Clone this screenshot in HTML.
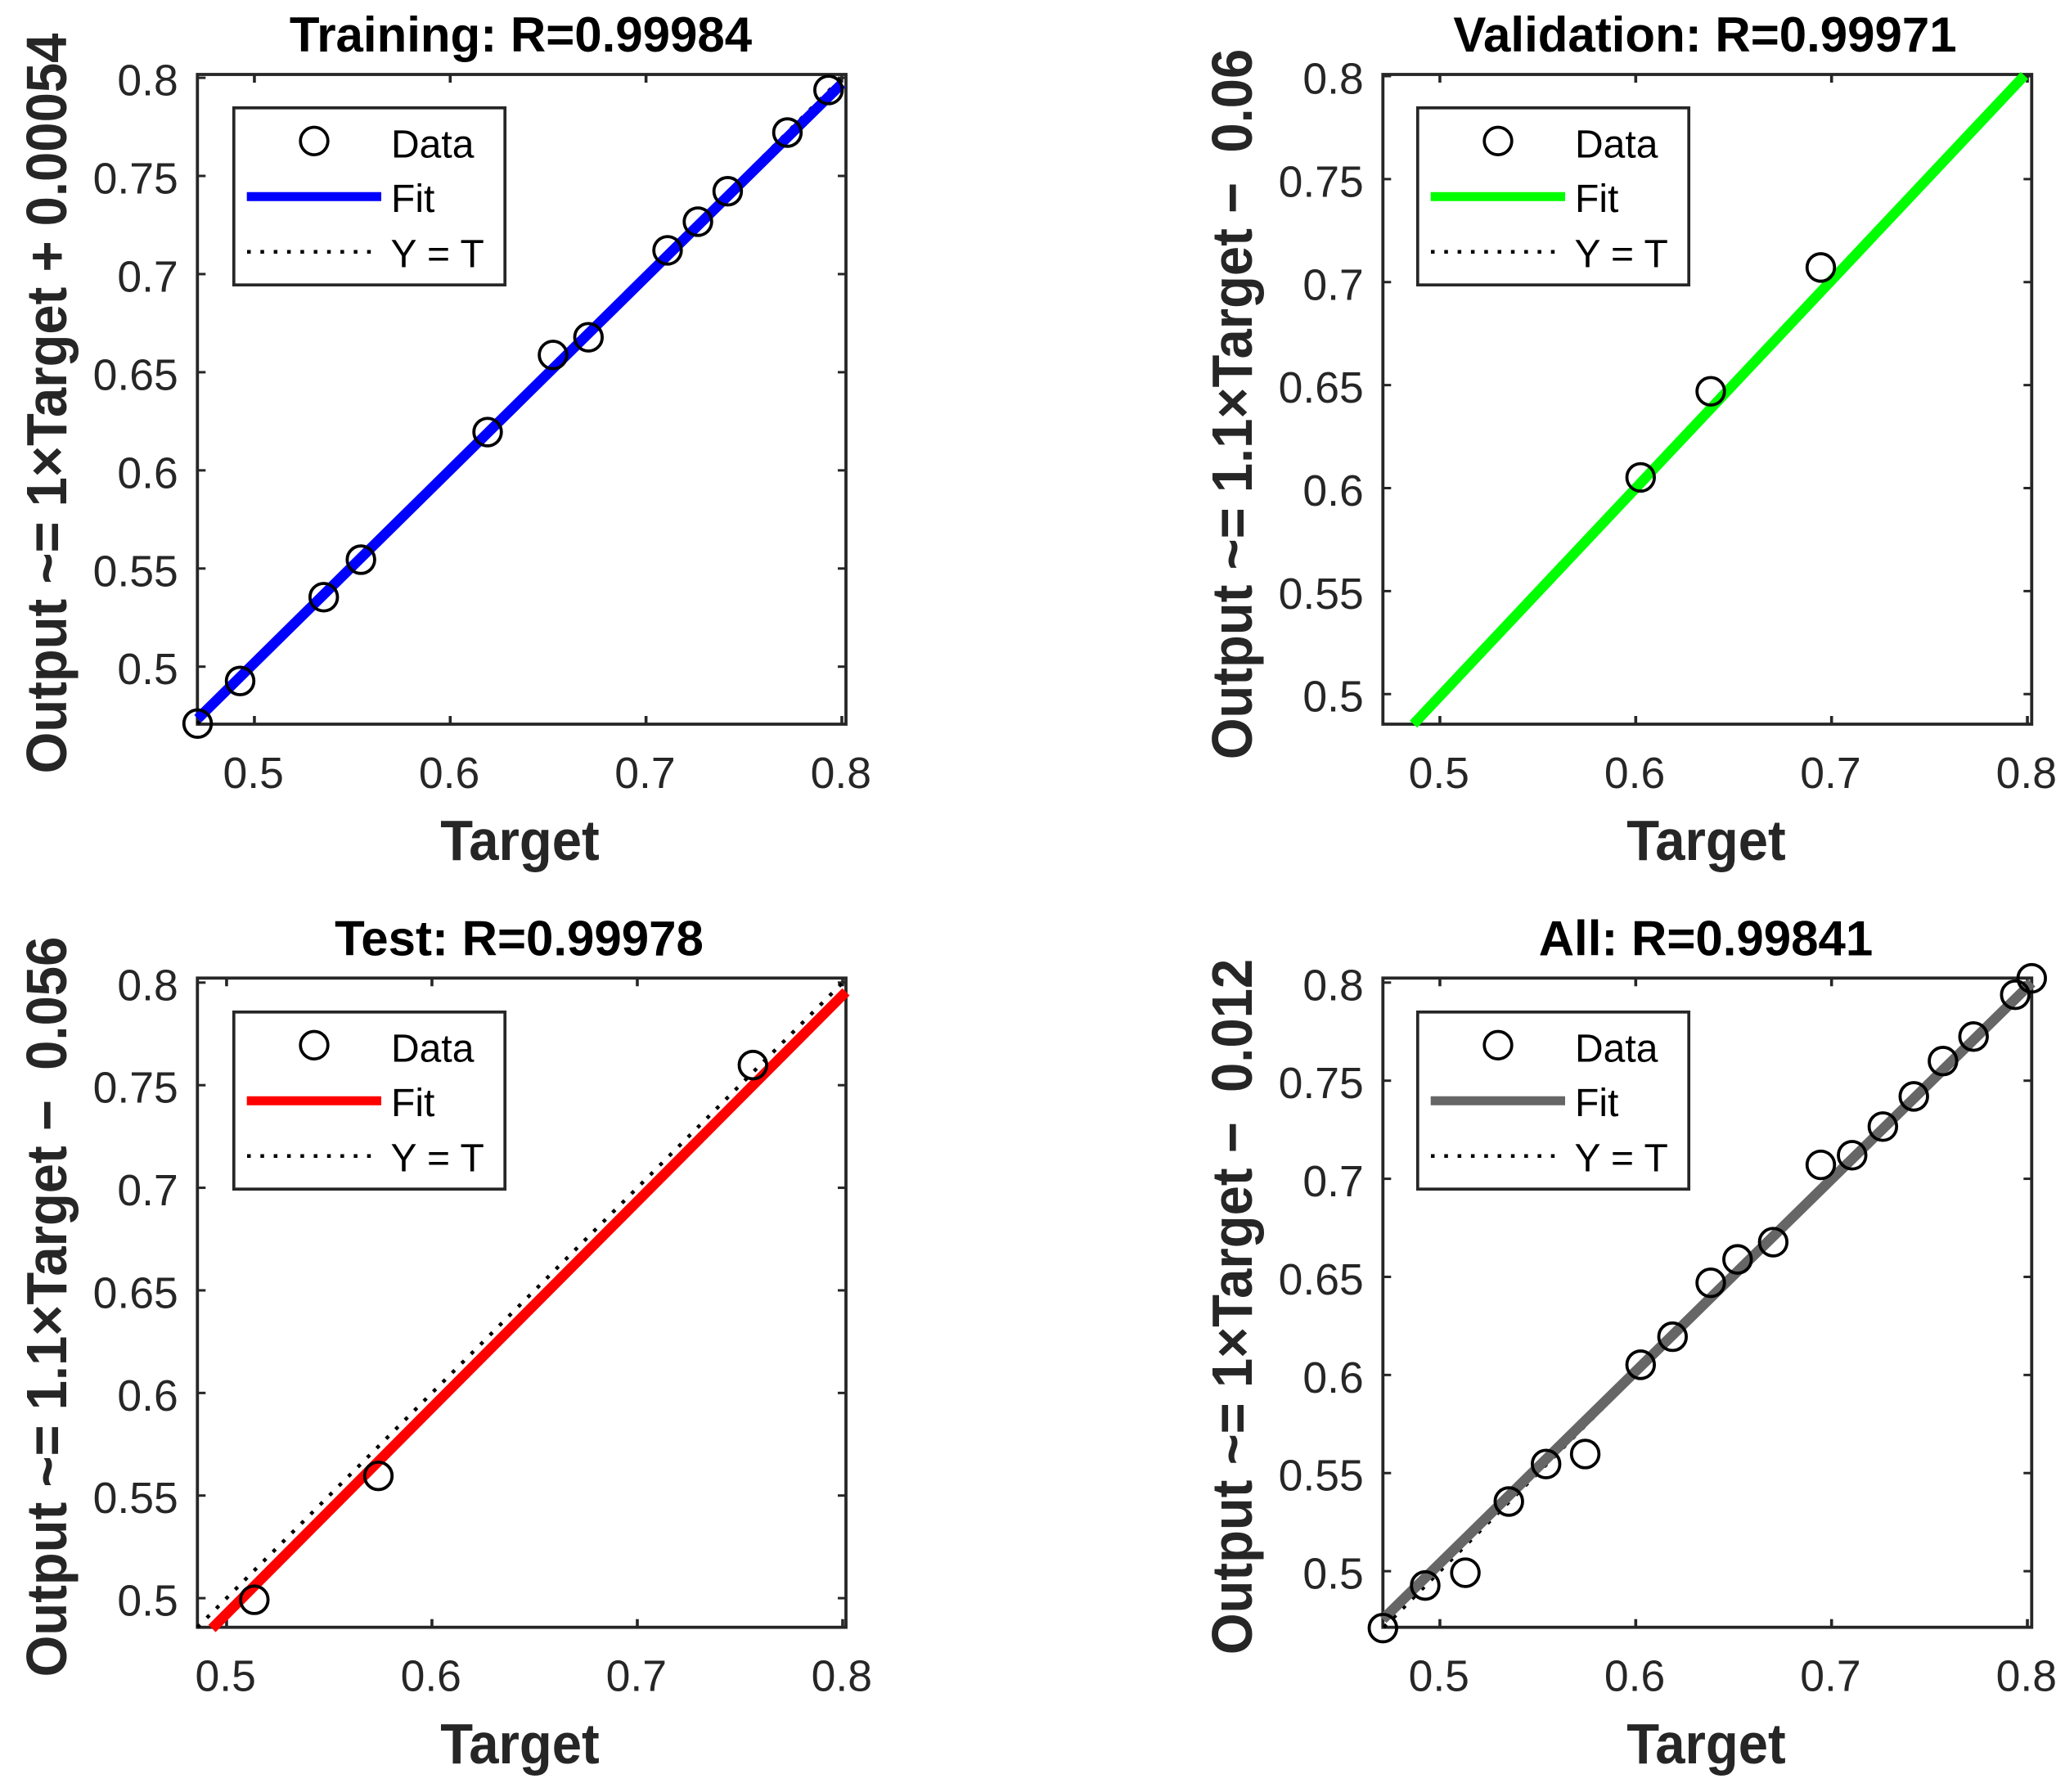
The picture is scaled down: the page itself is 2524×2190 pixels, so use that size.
<!DOCTYPE html>
<html lang="en">
<head>
<meta charset="utf-8">
<title>Neural network regression plots</title>
<style>
html,body{margin:0;padding:0;background:#fff;}
svg{display:block;font-family:"Liberation Sans",Arial,sans-serif;}
.title{font-size:60px;font-weight:bold;fill:#000;text-anchor:middle;}
.axis-label{font-size:65.2px;font-weight:bold;fill:#262626;text-anchor:middle;white-space:pre;}
.tick-text{font-size:53.5px;fill:#262626;}
.legend-text{font-size:48px;fill:#000;}
</style>
</head>
<body>
<svg id="figure" xmlns="http://www.w3.org/2000/svg" width="2524" height="2190" viewBox="0 0 2524 2190">
  <rect x="0" y="0" width="2524" height="2190" fill="#fff"/>

  <g>
    <text class="title" x="636.5" y="63">Training: R=0.99984</text>
    <text class="axis-label" transform="translate(81 493) rotate(-90) scale(1 1.07)">Output ~= 1×Target + 0.00054</text>
    <text class="axis-label" transform="translate(635.5 1051) scale(1 1.07)">Target</text>
    <g id="plot-training"></g>
    <g>
      <rect x="285.8" y="131.8" width="331.4" height="216.4" fill="#fff" stroke="#262626" stroke-width="3.7"/>
      <circle cx="384" cy="172.3" r="16.8" fill="none" stroke="#000" stroke-width="3.7"/>
      <line x1="301.7" x2="466" y1="240.3" y2="240.3" stroke="#0000ff" stroke-width="11"/>
      <line x1="302" x2="456" y1="307.7" y2="307.7" stroke="#000" stroke-width="4.5" stroke-dasharray="4.5 11.8"/>
      <text class="legend-text" x="478" y="192.3">Data</text>
      <text class="legend-text" x="478" y="259">Fit</text>
      <text class="legend-text" x="477.5" y="326.7">Y = T</text>
    </g>
  </g>

  <g>
    <text class="title" x="2084" y="63">Validation: R=0.99971</text>
    <text class="axis-label" transform="translate(1530 494) rotate(-90) scale(1 1.07)">Output ~= 1.1×Target −  0.06</text>
    <text class="axis-label" transform="translate(2085.5 1051) scale(1 1.07)">Target</text>
    <g id="plot-validation"></g>
    <g transform="translate(1447 0)">
      <rect x="285.8" y="131.8" width="331.4" height="216.4" fill="#fff" stroke="#262626" stroke-width="3.7"/>
      <circle cx="384" cy="172.3" r="16.8" fill="none" stroke="#000" stroke-width="3.7"/>
      <line x1="301.7" x2="466" y1="240.3" y2="240.3" stroke="#00ff00" stroke-width="11"/>
      <line x1="302" x2="456" y1="307.7" y2="307.7" stroke="#000" stroke-width="4.5" stroke-dasharray="4.5 11.8"/>
      <text class="legend-text" x="478" y="192.3">Data</text>
      <text class="legend-text" x="478" y="259">Fit</text>
      <text class="legend-text" x="477.5" y="326.7">Y = T</text>
    </g>
  </g>

  <g>
    <text class="title" x="634.5" y="1167.5">Test: R=0.99978</text>
    <text class="axis-label" transform="translate(81 1597) rotate(-90) scale(1 1.07)">Output ~= 1.1×Target −  0.056</text>
    <text class="axis-label" transform="translate(635.5 2155) scale(1 1.07)">Target</text>
    <g id="plot-test"></g>
    <g transform="translate(0 1105)">
      <rect x="285.8" y="131.8" width="331.4" height="216.4" fill="#fff" stroke="#262626" stroke-width="3.7"/>
      <circle cx="384" cy="172.3" r="16.8" fill="none" stroke="#000" stroke-width="3.7"/>
      <line x1="301.7" x2="466" y1="240.3" y2="240.3" stroke="#ff0000" stroke-width="11"/>
      <line x1="302" x2="456" y1="307.7" y2="307.7" stroke="#000" stroke-width="4.5" stroke-dasharray="4.5 11.8"/>
      <text class="legend-text" x="478" y="192.3">Data</text>
      <text class="legend-text" x="478" y="259">Fit</text>
      <text class="legend-text" x="477.5" y="326.7">Y = T</text>
    </g>
  </g>

  <g>
    <text class="title" x="2085" y="1167.5">All: R=0.99841</text>
    <text class="axis-label" transform="translate(1530 1597) rotate(-90) scale(1 1.07)">Output ~= 1×Target −  0.012</text>
    <text class="axis-label" transform="translate(2085.5 2155) scale(1 1.07)">Target</text>
    <g id="plot-all"></g>
    <g transform="translate(1447 1105)">
      <rect x="285.8" y="131.8" width="331.4" height="216.4" fill="#fff" stroke="#262626" stroke-width="3.7"/>
      <circle cx="384" cy="172.3" r="16.8" fill="none" stroke="#000" stroke-width="3.7"/>
      <line x1="301.7" x2="466" y1="240.3" y2="240.3" stroke="#666666" stroke-width="11"/>
      <line x1="302" x2="456" y1="307.7" y2="307.7" stroke="#000" stroke-width="4.5" stroke-dasharray="4.5 11.8"/>
      <text class="legend-text" x="478" y="192.3">Data</text>
      <text class="legend-text" x="478" y="259">Fit</text>
      <text class="legend-text" x="477.5" y="326.7">Y = T</text>
    </g>
  </g>
</svg>

<script>
// Shared tick values and labels
const xTickValues = [0.5, 0.6, 0.7, 0.8];
const xTickLabels = ['0.5', '0.6', '0.7', '0.8'];
const yTickValues = [0.5, 0.55, 0.6, 0.65, 0.7, 0.75, 0.8];
const yTickLabels = ['0.5', '0.55', '0.6', '0.65', '0.7', '0.75', '0.8'];

// Training
const trainingTargets = [0.4710, 0.4927, 0.5354, 0.5544, 0.6191, 0.6525, 0.6706, 0.7110, 0.7265, 0.7417, 0.7722, 0.7932];
const trainingOutputs = [0.4710, 0.4927, 0.5354, 0.5545, 0.6195, 0.6588, 0.6678, 0.7121, 0.7267, 0.7422, 0.7721, 0.7938];
const trainingFitX = [0.4711, 0.8000];
const trainingFitY = [0.4735, 0.7970];
const trainingXLim = [0.4709, 0.8021];
const trainingYLim = [0.4707, 0.8017];

// Validation
const validationTargets = [0.6025, 0.6383, 0.6945];
const validationOutputs = [0.6052, 0.6470, 0.7071];
const validationFitX = [0.4865, 0.7985];
const validationFitY = [0.4854, 0.8003];
const validationXLim = [0.4709, 0.8022];
const validationYLim = [0.4854, 0.8008];

// Test
const testTargets = [0.5135, 0.5739, 0.7563];
const testOutputs = [0.4992, 0.5596, 0.7598];
const testFitX = [0.4929, 0.8016];
const testFitY = [0.4852, 0.7955];
const testXLim = [0.4858, 0.8016];
const testYLim = [0.4858, 0.8022];

// All
const allTargets = [0.4709, 0.4925, 0.5130, 0.5352, 0.5542, 0.5742, 0.6025, 0.6188, 0.6383, 0.6520, 0.6702, 0.6945, 0.7105, 0.7262, 0.7420, 0.7569, 0.7725, 0.7938, 0.8022];
const allOutputs = [0.4710, 0.4927, 0.4992, 0.5355, 0.5546, 0.5597, 0.6052, 0.6195, 0.6470, 0.6589, 0.6677, 0.7071, 0.7120, 0.7266, 0.7420, 0.7600, 0.7725, 0.7938, 0.8022];
const allFitX = [0.4709, 0.8022];
const allFitY = [0.4755, 0.7999];
const allXLim = [0.4709, 0.8022];
const allYLim = [0.4714, 0.8023];

const SVG_NS = 'http://www.w3.org/2000/svg';
const AXIS_COLOR = '#262626';

function makeSvg(tag, parent, props) {
  const el = document.createElementNS(SVG_NS, tag);
  for (const key in props) el.setAttribute(key, props[key]);
  parent.appendChild(el);
  return el;
}

function linearScale(domain, range) {
  return function (v) {
    return range[0] + (v - domain[0]) * (range[1] - range[0]) / (domain[1] - domain[0]);
  };
}

function drawPanel(groupId, frame, xLim, yLim, targets, outputs, fitX, fitY, fitColor, identityRange) {
  const group = document.getElementById(groupId);
  const sx = linearScale(xLim, [frame.left, frame.right]);
  const sy = linearScale(yLim, [frame.bottom, frame.top]);

  const box = makeSvg('rect', group, {
    x: frame.left, y: frame.top, width: frame.right - frame.left, height: frame.bottom - frame.top,
    fill: 'none', stroke: AXIS_COLOR, 'stroke-width': 3.8
  });
  
  

  xTickValues.forEach(function (value, i) {
    const px = sx(value);
    const bottomTick = makeSvg('line', group, {
      x1: px, x2: px, y1: frame.bottom, y2: frame.bottom - 10, stroke: AXIS_COLOR, 'stroke-width': 3.6
    });
    
    
    const topTick = makeSvg('line', group, {
      x1: px, x2: px, y1: frame.top, y2: frame.top + 10, stroke: AXIS_COLOR, 'stroke-width': 3.6
    });
    
    
    const label = makeSvg('text', group, {
      x: px - 1.2, y: frame.bottom + 78, 'text-anchor': 'middle', class: 'tick-text'
    });
    
    
    label.textContent = xTickLabels[i];
  });

  yTickValues.forEach(function (value, i) {
    const py = sy(value);
    const leftTick = makeSvg('line', group, {
      x1: frame.left, x2: frame.left + 10, y1: py, y2: py, stroke: AXIS_COLOR, 'stroke-width': 3
    });
    
    
    const rightTick = makeSvg('line', group, {
      x1: frame.right, x2: frame.right - 10, y1: py, y2: py, stroke: AXIS_COLOR, 'stroke-width': 3
    });
    
    
    const label = makeSvg('text', group, {
      x: frame.left - 23.5, y: py + 21.5, 'text-anchor': 'end', class: 'tick-text'
    });
    
    
    label.textContent = yTickLabels[i];
  });

  const identity = makeSvg('line', group, {
    x1: sx(identityRange[0]), y1: sy(identityRange[0]), x2: sx(identityRange[1]), y2: sy(identityRange[1]),
    stroke: '#000', 'stroke-width': 4.5, 'stroke-dasharray': '4.5 11.8'
  });
  
  

  const fit = makeSvg('line', group, {
    x1: sx(fitX[0]), y1: sy(fitY[0]), x2: sx(fitX[1]), y2: sy(fitY[1]),
    stroke: fitColor, 'stroke-width': 12.5
  });
  
  

  targets.forEach(function (target, i) {
    const point = makeSvg('circle', group, {
      cx: sx(target), cy: sy(outputs[i]), r: 16.8, fill: 'none', stroke: '#000', 'stroke-width': 3.8
    });
    
    
  });
}

drawPanel('plot-training', {left: 241.3, right: 1034, top: 91, bottom: 885},
  trainingXLim, trainingYLim, trainingTargets, trainingOutputs, trainingFitX, trainingFitY, '#0000ff', [0.4709, 0.8017]);
drawPanel('plot-validation', {left: 1690.3, right: 2483.3, top: 91, bottom: 885},
  validationXLim, validationYLim, validationTargets, validationOutputs, validationFitX, validationFitY, '#00ff00', [0.4900, 0.7990]);
drawPanel('plot-test', {left: 241.3, right: 1034, top: 1195.3, bottom: 1988.7},
  testXLim, testYLim, testTargets, testOutputs, testFitX, testFitY, '#ff0000', [0.4858, 0.8016]);
drawPanel('plot-all', {left: 1690.3, right: 2483.3, top: 1195.3, bottom: 1988.7},
  allXLim, allYLim, allTargets, allOutputs, allFitX, allFitY, '#666666', [0.4714, 0.8022]);
</script>
</body>
</html>
